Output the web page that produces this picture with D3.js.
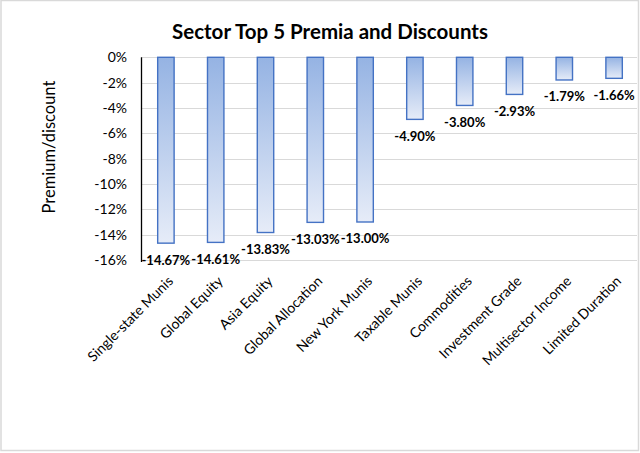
<!DOCTYPE html>
<html>
<head>
<meta charset="utf-8">
<script src="https://cdn.jsdelivr.net/npm/d3@7"></script>
<style>
  html, body { margin: 0; padding: 0; background: #fff; }
  svg { display: block; }
  text { font-family: Lato, "Open Sans", sans-serif; fill: #000; }
</style>
</head>
<body>
<svg id="chart" width="640" height="453"></svg>
<script>
const title = "Sector Top 5 Premia and Discounts";
const yAxisTitle = "Premium/discount";
const categories = ["Single-state Munis", "Global Equity", "Asia Equity", "Global Allocation", "New York Munis", "Taxable Munis", "Commodities", "Investment Grade", "Multisector Income", "Limited Duration"];
const values = [-14.67, -14.61, -13.83, -13.03, -13.00, -4.90, -3.80, -2.93, -1.79, -1.66];
const yTicks = [0, -2, -4, -6, -8, -10, -12, -14, -16];

const svg = d3.select("#chart");
const plot = { left: 141, right: 639, top: 57.3, bottom: 260 };

// chart area border
svg.append("rect").attr("x", 1).attr("y", 0.5).attr("width", 637.5).attr("height", 450)
  .attr("fill", "#fff").attr("stroke", "#d9d9d9").attr("stroke-width", 1.5);

const defs = svg.append("defs");
const grad = defs.append("linearGradient").attr("id", "barGrad")
  .attr("x1", 0).attr("y1", 0).attr("x2", 0).attr("y2", 1);
grad.append("stop").attr("offset", "0%").attr("stop-color", "#95b3e3");
grad.append("stop").attr("offset", "100%").attr("stop-color", "#e6ecf8");

const x = d3.scaleBand().domain(categories).range([plot.left, plot.right]).paddingInner(0.67).paddingOuter(0.335);
const y = d3.scaleLinear().domain([0, -16]).range([plot.top, plot.bottom]);

// gridlines
svg.append("g").selectAll("line").data(yTicks).join("line")
  .attr("x1", plot.left).attr("x2", plot.right - 2)
  .attr("y1", d => Math.round(y(d)) + 0.5).attr("y2", d => Math.round(y(d)) + 0.5)
  .attr("stroke", "#d9d9d9").attr("stroke-width", 1.2);

// y axis
const yAxis = d3.axisLeft(y).tickValues(yTicks).tickSize(0).tickPadding(14)
  .tickFormat(d => d + "%");
const gy = svg.append("g").attr("transform", `translate(${plot.left},0)`).call(yAxis);
gy.select(".domain").remove();
gy.selectAll("text").attr("font-size", "14px").attr("font-family", "Lato").attr("fill", "#000");

// bars
svg.append("g").selectAll("rect").data(values).join("rect")
  .attr("x", (d, i) => x(categories[i]))
  .attr("y", d => y(0))
  .attr("width", x.bandwidth())
  .attr("height", d => y(d) - y(0))
  .attr("fill", "url(#barGrad)")
  .attr("stroke", "#4472c4").attr("stroke-width", 1.4);

// axis line
svg.append("line").attr("x1", plot.left + 0.5).attr("x2", plot.left + 0.5)
  .attr("y1", plot.top).attr("y2", plot.bottom + 2)
  .attr("stroke", "#000").attr("stroke-width", 1.3);

// value labels
svg.append("g").selectAll("text").data(values).join("text")
  .attr("x", (d, i) => x(categories[i]) + x.bandwidth() / 2)
  .attr("y", d => y(d) + 21.5)
  .attr("text-anchor", "middle")
  .attr("font-size", "13px").attr("font-weight", "bold")
  .text(d => d.toFixed(2) + "%");

// category labels
svg.append("g").selectAll("text").data(categories).join("text")
  .attr("transform", d => `translate(${x(d) + x.bandwidth() / 2 + 1},${plot.bottom + 15}) rotate(-45)`)
  .attr("text-anchor", "end")
  .attr("dy", "0.71em")
  .attr("font-size", "14px")
  .text(d => d);

// title
svg.append("text").attr("x", 330).attr("y", 38.5).attr("text-anchor", "middle")
  .attr("font-size", "20.5px").attr("font-weight", "bold").text(title);

// y axis title
svg.append("text").attr("transform", `translate(55,147) rotate(-90)`)
  .attr("text-anchor", "middle").attr("font-size", "16.5px").text(yAxisTitle);
</script>
</body>
</html>
